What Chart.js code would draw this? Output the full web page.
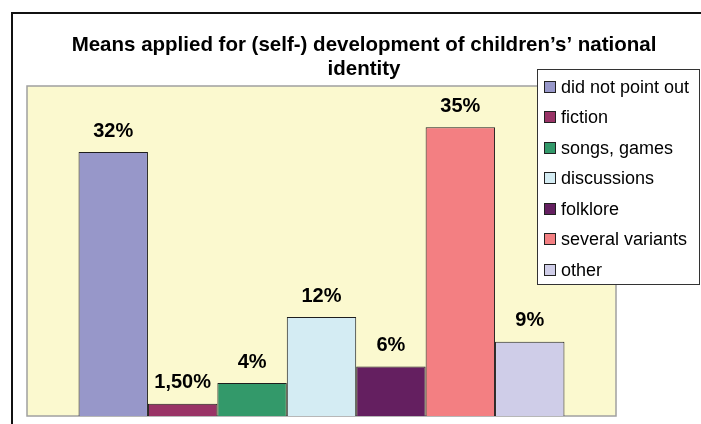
<!DOCTYPE html>
<html>
<head>
<meta charset="utf-8">
<script src="https://cdn.jsdelivr.net/npm/chart.js@4.4.1/dist/chart.umd.min.js"></script>
<style>
  html, body { margin: 0; padding: 0; background: #ffffff; }
  #wrap { width: 701px; height: 424px; position: relative; }
</style>
</head>
<body>
<div id="wrap"><canvas id="chart" width="701" height="424"></canvas></div>
<script>
// Survey answers: means applied for (self-) development of national identity
const categories = ['did not point out', 'fiction', 'songs, games', 'discussions', 'folklore', 'several variants', 'other'];
const shares = [32, 1.5, 4, 12, 6, 35, 9];
const barColors = ['#9797C9', '#993366', '#33996A', '#D4ECF3', '#641F60', '#F37F82', '#CFCDE8'];
const titleLines = ['Means applied for (self-) development of children\u2019s\u2019 national', 'identity'];

const FONT = '"Liberation Sans", Arial, Helvetica, sans-serif';

function formatShare(v) {
  return Number.isInteger(v) ? v + '%' : v.toFixed(2).replace('.', ',') + '%';
}

// Frame, plot background, title
const backdrop = {
  id: 'backdrop',
  beforeDraw(chart) {
    const { ctx, chartArea: a } = chart;
    ctx.save();
    ctx.fillStyle = '#ffffff';
    ctx.fillRect(0, 0, chart.width, chart.height);
    // outer chart frame (left and top edges)
    ctx.fillStyle = '#111111';
    ctx.fillRect(11, 12, 2, chart.height - 12);
    ctx.fillRect(11, 12, chart.width - 11, 2);
    // plot area
    ctx.fillStyle = '#FBF9CF';
    ctx.fillRect(a.left, a.top, a.right - a.left, a.bottom - a.top);
    ctx.strokeStyle = '#a0a0a0';
    ctx.lineWidth = 1.5;
    ctx.strokeRect(a.left, a.top, a.right - a.left, a.bottom - a.top);
    // title
    ctx.fillStyle = '#000000';
    ctx.font = 'bold 20.5px ' + FONT;
    ctx.textAlign = 'center';
    ctx.textBaseline = 'alphabetic';
    ctx.fillText(titleLines[0], 364, 51);
    ctx.fillText(titleLines[1], 364, 75);
    ctx.restore();
  }
};

// Value labels above each bar
const valueLabels = {
  id: 'valueLabels',
  afterDatasetsDraw(chart) {
    const { ctx } = chart;
    ctx.save();
    ctx.fillStyle = '#000000';
    ctx.font = 'bold 20px ' + FONT;
    ctx.textAlign = 'center';
    ctx.textBaseline = 'middle';
    chart.data.datasets.forEach((ds, i) => {
      const bar = chart.getDatasetMeta(i).data[0];
      ctx.fillText(formatShare(ds.data[0]), bar.x, bar.y - 21);
    });
    ctx.restore();
  }
};

// Boxed legend on the right
const boxLegend = {
  id: 'boxLegend',
  afterDraw(chart) {
    const { ctx } = chart;
    const x0 = 537, y0 = 69, x1 = 700, y1 = 285;
    ctx.save();
    ctx.fillStyle = '#ffffff';
    ctx.fillRect(x0, y0, x1 - x0, y1 - y0);
    ctx.strokeStyle = '#333333';
    ctx.lineWidth = 1;
    ctx.strokeRect(x0 + 0.5, y0 + 0.5, x1 - x0 - 1, y1 - y0 - 1);
    ctx.font = '18px ' + FONT;
    ctx.textAlign = 'left';
    ctx.textBaseline = 'middle';
    chart.data.datasets.forEach((ds, i) => {
      const cy = 86.7 + i * 30.55;
      ctx.fillStyle = ds.backgroundColor;
      ctx.fillRect(544, Math.round(cy - 6), 12, 12);
      ctx.strokeStyle = '#222222';
      ctx.strokeRect(544.5, Math.round(cy - 6) + 0.5, 11, 11);
      ctx.fillStyle = '#000000';
      ctx.fillText(ds.label, 561, cy + 1);
    });
    ctx.restore();
  }
};

new Chart(document.getElementById('chart'), {
  type: 'bar',
  data: {
    labels: [''],
    datasets: categories.map((c, i) => ({
      label: c,
      data: [shares[i]],
      backgroundColor: barColors[i],
      borderColor: '#1e1e1e',
      borderWidth: 1,
      borderSkipped: 'bottom',
      categoryPercentage: 0.825,
      barPercentage: 1
    }))
  },
  options: {
    responsive: false,
    animation: false,
    events: [],
    layout: { padding: { left: 27, right: 85, top: 86, bottom: 8 } },
    scales: {
      x: { display: false },
      y: { display: false, min: 0, max: 40 }
    },
    plugins: {
      legend: { display: false },
      title: { display: false },
      tooltip: { enabled: false }
    }
  },
  plugins: [backdrop, valueLabels, boxLegend]
});
</script>
</body>
</html>
